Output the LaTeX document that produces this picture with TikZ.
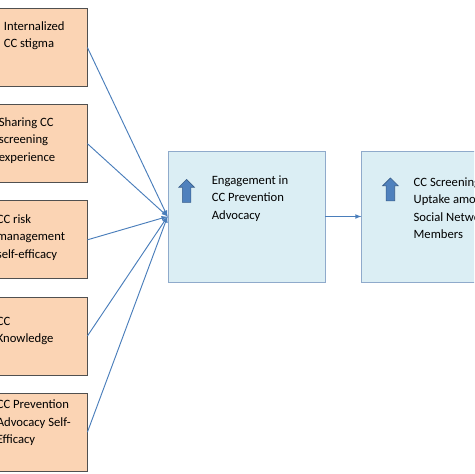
\documentclass[tikz,border=0pt]{standalone}
\usepackage{fontspec}
\setmainfont{Carlito}
\usetikzlibrary{arrows,positioning,shapes.arrows}

\definecolor{peach}{HTML}{FBD4B4}
\definecolor{boxgray}{HTML}{505050}
\definecolor{lightblue}{HTML}{DBEEF4}
\definecolor{paleblue}{HTML}{8FAACB}
\definecolor{lineblue}{HTML}{4A7EBB}
\definecolor{arrowblue}{HTML}{4F81BD}
\definecolor{arrowrim}{HTML}{385D8A}

\begin{document}
\begin{tikzpicture}
    [x=0.03cm,y=-0.03cm,
    node distance=0.52cm,
    factor/.style={rectangle,draw=boxgray,fill=peach,line width=0.7pt,
      minimum width=2.97cm,minimum height=2.34cm,inner sep=0pt},
    outcome/.style={rectangle,draw=paleblue,fill=lightblue,line width=0.7pt,
      minimum width=4.71cm,minimum height=3.93cm,inner sep=0pt},
    boxtext/.style={align=left,anchor=north west,inner sep=0pt,
      font=\fontsize{10.8}{14.9}\selectfont,execute at begin node=\strut},
    rise/.style={single arrow,shape border rotate=90,draw=arrowrim,fill=arrowblue,
      line width=0.5pt,minimum height=0.69cm,minimum width=0.45cm,
      single arrow head extend=0.105cm,inner sep=0.12cm},
    pre/.style={latex-,line width=0.8pt,lineblue},
    post/.style={-latex,line width=0.8pt,lineblue}]
    \useasboundingbox (0,0) rectangle (474,474);
    \clip (0,0) rectangle (474,474);
    % five factors on the left
    \node[factor] (stigma) at (37.5,47.5) {};
    \node[factor] (sharing) [below=of stigma] {};
    \node[factor] (risk) [below=of sharing] {};
    \node[factor] (knowledge) [below=of risk] {};
    \node[factor] (selfeff) [below=of knowledge] {};
    \node[boxtext] (stigma text) at ([shift={(16,13)}]stigma.north west)
      {Internalized\\CC stigma};
    \node[boxtext] (sharing text) at ([shift={(11,13)}]sharing.north west)
      {Sharing CC\\screening\\experience};
    \node[boxtext] (risk text) at ([shift={(9,14)}]risk.north west)
      {CC risk\\management\\self-efficacy};
    \node[boxtext] (knowledge text) at ([shift={(9,20)}]knowledge.north west)
      {CC\\Knowledge};
    \node[boxtext] (selfeff text) at ([shift={(9,7)}]selfeff.north west)
      {CC Prevention\\Advocacy Self-\\Efficacy};
    % outcomes
    \node[outcome] (engage) at (246.5,216.5) {};
    \node[outcome] (uptake) [right=1.08cm of engage] {};
    \node[rise] (engage up) at ([shift={(19,42.5)}]engage.north west) {};
    \node[rise] (uptake up) at ([shift={(29,41)}]uptake.north west) {};
    \node[boxtext] (engage text) at ([shift={(44,25)}]engage.north west)
      {Engagement in\\CC Prevention\\Advocacy};
    \node[boxtext] (uptake text) at ([shift={(52,27)}]uptake.north west)
      {CC Screening\\Uptake among\\Social Network\\Members};
    \path (engage.west)
      edge [pre] (stigma.east)
      edge [pre] (sharing.east)
      edge [pre] (risk.east)
      edge [pre] (knowledge.east)
      edge [pre] (selfeff.east);
    \draw[post] (engage) -- (uptake);
\end{tikzpicture}
\end{document}
